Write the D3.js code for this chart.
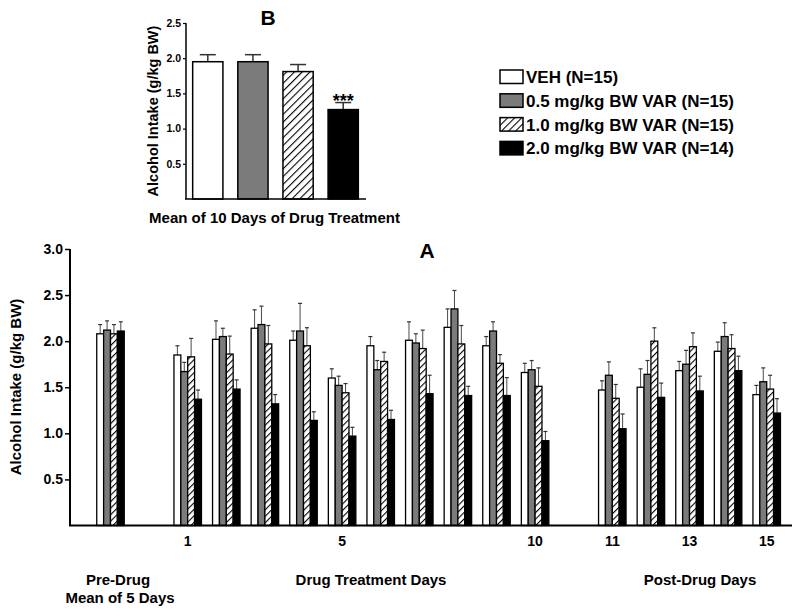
<!DOCTYPE html>
<html>
<head>
<meta charset="utf-8">
<script src="https://cdn.jsdelivr.net/npm/d3@7"></script>
<style>
  html, body { margin: 0; padding: 0; background: #fff; }
  svg { display: block; font-family: "Liberation Sans", Arial, sans-serif; }
</style>
</head>
<body>
<svg id="chart" width="800" height="613"></svg>
<script>
// ---------- DATA ----------
const seriesNames = ["VEH (N=15)", "0.5 mg/kg BW VAR (N=15)", "1.0 mg/kg BW VAR (N=15)", "2.0 mg/kg BW VAR (N=14)"];
const groups = ["Pre", "1", "2", "3", "4", "5", "6", "7", "8", "9", "10", "11", "12", "13", "14", "15"];
const slots = ["Pre", "gapA", "1", "2", "3", "4", "5", "6", "7", "8", "9", "10", "gapB", "11", "12", "13", "14", "15"];
const tickLabels = ["1", "5", "10", "11", "13", "15"];

const vehMean  = [2.08, 1.85, 2.02, 2.14, 2.01, 1.60, 1.95, 2.01, 2.15, 1.95, 1.66, 1.47, 1.50, 1.68, 1.89, 1.42];
const vehSem   = [0.10, 0.10, 0.20, 0.20, 0.10, 0.10, 0.10, 0.20, 0.20, 0.10, 0.10, 0.10, 0.20, 0.10, 0.10, 0.10];
const low05Mean = [2.12, 1.67, 2.05, 2.18, 2.11, 1.52, 1.69, 1.98, 2.35, 2.11, 1.69, 1.63, 1.64, 1.75, 2.05, 1.56];
const low05Sem  = [0.10, 0.10, 0.09, 0.20, 0.30, 0.10, 0.10, 0.10, 0.20, 0.10, 0.10, 0.145, 0.15, 0.15, 0.15, 0.15];
const mid10Mean = [2.08, 1.83, 1.86, 1.97, 1.95, 1.44, 1.78, 1.92, 1.97, 1.76, 1.51, 1.38, 2.00, 1.94, 1.92, 1.48];
const mid10Sem  = [0.10, 0.20, 0.195, 0.20, 0.196, 0.10, 0.10, 0.20, 0.20, 0.094, 0.20, 0.15, 0.145, 0.15, 0.15, 0.15];
const high20Mean = [2.11, 1.37, 1.48, 1.32, 1.14, 0.97, 1.15, 1.43, 1.41, 1.41, 0.92, 1.05, 1.39, 1.46, 1.68, 1.22];
const high20Sem  = [0.10, 0.10, 0.10, 0.10, 0.094, 0.095, 0.10, 0.20, 0.10, 0.195, 0.10, 0.16, 0.155, 0.16, 0.157, 0.156];

const bMean = [1.95, 1.95, 1.81, 1.27];
const bSem  = [0.10, 0.10, 0.10, 0.10];

const mainTicks = [0.5, 1.0, 1.5, 2.0, 2.5, 3.0];
const bTicks = [0.5, 1.0, 1.5, 2.0, 2.5];

// ---------- SETUP ----------
const FONT = '"Liberation Sans", Arial, sans-serif';
const svg = d3.select("#chart");
svg.append("rect").attr("width", 800).attr("height", 613).attr("fill", "#fff");

const defs = svg.append("defs");
function hatch(id, size, sw) {
  const p = defs.append("pattern").attr("id", id)
    .attr("patternUnits", "userSpaceOnUse")
    .attr("width", size).attr("height", size)
    .attr("patternTransform", "rotate(45)");
  p.append("rect").attr("width", size).attr("height", size).attr("fill", "#fff");
  p.append("line").attr("x1", 0).attr("y1", 0).attr("x2", 0).attr("y2", size)
    .attr("stroke", "#000").attr("stroke-width", sw);
}
hatch("hatchMain", 4.6, 2.2);
hatch("hatchB", 5.5, 2.2);
hatch("hatchLeg", 5, 2.2);

const fills = ["#ffffff", "#7b7b7b", "url(#hatchMain)", "#000000"];
const fillsB = ["#ffffff", "#7b7b7b", "url(#hatchB)", "#000000"];
const fillsLeg = ["#ffffff", "#7b7b7b", "url(#hatchLeg)", "#000000"];

const means = [vehMean, low05Mean, mid10Mean, high20Mean];
const sems = [vehSem, low05Sem, mid10Sem, high20Sem];

// ---------- PANEL A (main) ----------
const xSlot = d3.scalePoint().domain(slots).range([110.5, 766.7]);
const xInner = d3.scaleBand().domain(d3.range(4)).range([-13.75, 13.75]).padding(0);
const yA = d3.scaleLinear().domain([0, 3]).range([525.5, 249]);

const gA = svg.append("g");

const barData = [];
groups.forEach((g, gi) => {
  for (let s = 0; s < 4; s++) {
    barData.push({ g, s, v: means[s][gi], e: sems[s][gi] });
  }
});

// error bars (drawn first so bar outline sits on top at base)
const eb = gA.append("g").selectAll("g").data(barData).join("g");
eb.append("line")
  .attr("x1", d => xSlot(d.g) + xInner(d.s) + xInner.bandwidth() / 2)
  .attr("x2", d => xSlot(d.g) + xInner(d.s) + xInner.bandwidth() / 2)
  .attr("y1", d => yA(d.v))
  .attr("y2", d => yA(d.v + d.e))
  .attr("stroke", "#4a4a4a").attr("stroke-width", 1);
eb.append("line")
  .attr("x1", d => xSlot(d.g) + xInner(d.s) + xInner.bandwidth() / 2 - 2)
  .attr("x2", d => xSlot(d.g) + xInner(d.s) + xInner.bandwidth() / 2 + 2)
  .attr("y1", d => yA(d.v + d.e))
  .attr("y2", d => yA(d.v + d.e))
  .attr("stroke", "#333").attr("stroke-width", 1.2);

gA.append("g").selectAll("rect").data(barData).join("rect")
  .attr("x", d => xSlot(d.g) + xInner(d.s))
  .attr("y", d => yA(d.v))
  .attr("width", xInner.bandwidth())
  .attr("height", d => yA(0) - yA(d.v))
  .attr("fill", d => fills[d.s])
  .attr("stroke", "#000").attr("stroke-width", 1.3);

// y axis
const yAxisA = d3.axisLeft(yA).tickValues(mainTicks).tickFormat(d3.format(".1f")).tickSize(5).tickPadding(2);
const gyA = gA.append("g").attr("transform", "translate(70,0)").call(yAxisA);
gyA.select(".domain").attr("d", `M0,${yA(3)}V${yA(0)}`).attr("stroke", "#000").attr("stroke-width", 2);
gyA.selectAll(".tick line").attr("stroke", "#000").attr("stroke-width", 1.5);
gyA.selectAll(".tick text").attr("font-family", FONT).attr("font-size", 14).attr("font-weight", "bold").attr("fill", "#000");

// x axis line
gA.append("line").attr("x1", 69).attr("x2", 792).attr("y1", yA(0)).attr("y2", yA(0))
  .attr("stroke", "#000").attr("stroke-width", 2);

// x tick labels
gA.append("g").selectAll("text").data(tickLabels).join("text")
  .attr("x", d => xSlot(d)).attr("y", 546)
  .attr("text-anchor", "middle")
  .attr("font-family", FONT).attr("font-size", 14).attr("font-weight", "bold")
  .text(d => d);

// section labels
const secStyle = sel => sel.attr("text-anchor", "middle").attr("font-family", FONT)
  .attr("font-size", 15).attr("font-weight", "bold").attr("fill", "#000");
gA.append("text").attr("x", 118).attr("y", 585).call(secStyle).text("Pre-Drug");
gA.append("text").attr("x", 120).attr("y", 603).call(secStyle).text("Mean of 5 Days");
gA.append("text").attr("x", 371).attr("y", 585).call(secStyle).text("Drug Treatment Days");
gA.append("text").attr("x", 700).attr("y", 585).call(secStyle).text("Post-Drug Days");

// title A
gA.append("text").attr("x", 427).attr("y", 258).attr("text-anchor", "middle")
  .attr("font-family", FONT).attr("font-size", 21).attr("font-weight", "bold").text("A");

// y label A
gA.append("text").attr("transform", "translate(21,387) rotate(-90)")
  .attr("text-anchor", "middle").attr("font-family", FONT).attr("font-size", 15)
  .attr("font-weight", "bold").text("Alcohol Intake (g/kg BW)");

// ---------- PANEL B ----------
const xB = d3.scaleBand().domain(d3.range(4)).range([185, 366]).paddingInner(0.33).paddingOuter(0.17);
const yB = d3.scaleLinear().domain([0, 2.5]).range([199, 23]);
const gB = svg.append("g");

const bData = bMean.map((v, i) => ({ i, v, e: bSem[i] }));
const ebB = gB.append("g").selectAll("g").data(bData).join("g");
ebB.append("line")
  .attr("x1", d => xB(d.i) + xB.bandwidth() / 2).attr("x2", d => xB(d.i) + xB.bandwidth() / 2)
  .attr("y1", d => yB(d.v)).attr("y2", d => yB(d.v + d.e))
  .attr("stroke", "#333").attr("stroke-width", 1.5);
ebB.append("line")
  .attr("x1", d => xB(d.i) + xB.bandwidth() / 2 - 8).attr("x2", d => xB(d.i) + xB.bandwidth() / 2 + 8)
  .attr("y1", d => yB(d.v + d.e)).attr("y2", d => yB(d.v + d.e))
  .attr("stroke", "#333").attr("stroke-width", 1.5);

gB.append("g").selectAll("rect").data(bData).join("rect")
  .attr("x", d => xB(d.i)).attr("y", d => yB(d.v))
  .attr("width", xB.bandwidth()).attr("height", d => yB(0) - yB(d.v))
  .attr("fill", d => fillsB[d.i]).attr("stroke", "#000").attr("stroke-width", 1.5);

const yAxisB = d3.axisLeft(yB).tickValues(bTicks).tickFormat(d3.format(".1f")).tickSize(3).tickPadding(2);
const gyB = gB.append("g").attr("transform", "translate(186,0)").call(yAxisB);
gyB.select(".domain").attr("d", `M0,${yB(2.5)}V${yB(0)}`).attr("stroke", "#000").attr("stroke-width", 1.5);
gyB.selectAll(".tick line").attr("stroke", "#000").attr("stroke-width", 1.2);
gyB.selectAll(".tick text").attr("font-family", FONT).attr("font-size", 10.5).attr("font-weight", "bold").attr("fill", "#000");

gB.append("line").attr("x1", 185).attr("x2", 366).attr("y1", yB(0)).attr("y2", yB(0))
  .attr("stroke", "#000").attr("stroke-width", 1.5);

// significance stars
gB.append("text").attr("x", xB(3) + xB.bandwidth() / 2).attr("y", 107)
  .attr("text-anchor", "middle").attr("font-family", FONT).attr("font-size", 18)
  .attr("font-weight", "bold").text("***");

gB.append("text").attr("x", 268).attr("y", 25).attr("text-anchor", "middle")
  .attr("font-family", FONT).attr("font-size", 21).attr("font-weight", "bold").text("B");

gB.append("text").attr("transform", "translate(158,111) rotate(-90)")
  .attr("text-anchor", "middle").attr("font-family", FONT).attr("font-size", 14.5)
  .attr("font-weight", "bold").text("Alcohol Intake (g/kg BW)");

gB.append("text").attr("x", 274.5).attr("y", 223).attr("text-anchor", "middle")
  .attr("font-family", FONT).attr("font-size", 15).attr("font-weight", "bold")
  .text("Mean of 10 Days of Drug Treatment");

// ---------- LEGEND ----------
const leg = svg.append("g").attr("transform", "translate(500,70)");
const li = leg.selectAll("g").data(seriesNames).join("g")
  .attr("transform", (d, i) => `translate(0,${i * 23.8})`);
li.append("rect").attr("width", 23).attr("height", 13.5)
  .attr("fill", (d, i) => fillsLeg[i]).attr("stroke", "#000").attr("stroke-width", 1.5);
li.append("text").attr("x", 26).attr("y", 13).attr("font-family", FONT)
  .attr("font-size", 17).attr("font-weight", "bold").text(d => d);
</script>
</body>
</html>
